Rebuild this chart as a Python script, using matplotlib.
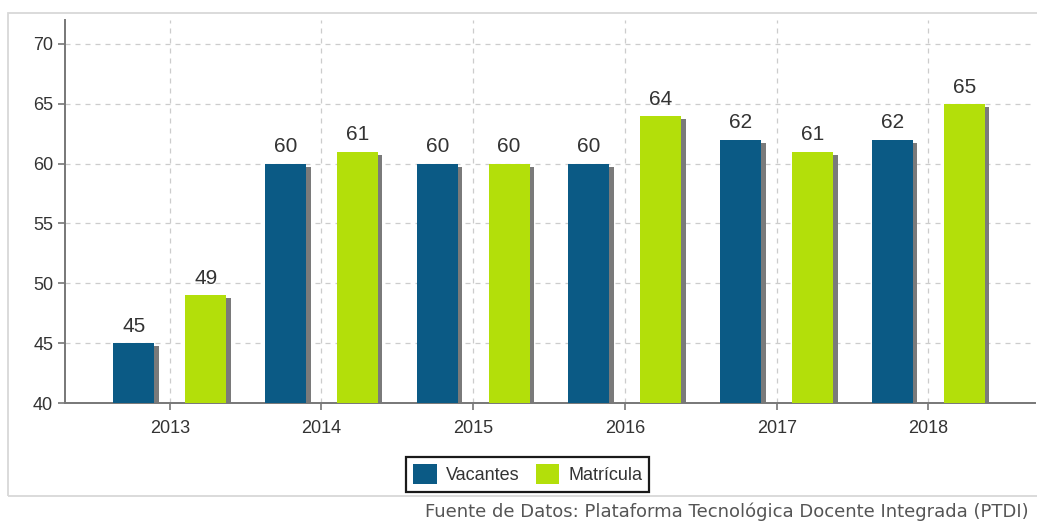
import numpy as np
import matplotlib.pyplot as plt
from matplotlib import font_manager
from matplotlib.patches import Rectangle

plt.rcParams['font.family'] = ['Liberation Sans', 'DejaVu Sans']

# narrow face for ticks and legend, if it is there
installed = {f.name for f in font_manager.fontManager.ttflist}
narrow = 'Liberation Sans Narrow' if 'Liberation Sans Narrow' in installed else 'Liberation Sans'

# Data
years = ['2013', '2014', '2015', '2016', '2017', '2018']
vacantes = [45, 60, 60, 60, 62, 62]
matricula = [49, 61, 60, 64, 61, 65]

color_vac = '#0b5a85'
color_mat = '#b3df0a'
shadow = '#7a7a7a'
text_col = '#333333'

fig = plt.figure(figsize=(10.37, 5.23), dpi=100)

# outer light frame (right edge runs off the picture)
fig.add_artist(Rectangle((0.008, 0.052), 1.0, 0.923, transform=fig.transFigure,
                         fill=False, edgecolor='#d8d8d8', linewidth=1.3))

ax = fig.add_axes([0.0627, 0.2294, 0.935, 0.7324])

x = np.arange(len(years))
width = 0.27
offset = 0.237

# shadows first, then bars
dx, dy = 0.03, 0.25
for xs, vals, col, lab in [(x - offset, vacantes, color_vac, 'Vacantes'),
                           (x + offset, matricula, color_mat, 'Matrícula')]:
    ax.bar(xs + dx, np.array(vals) - 40 - dy, bottom=40, width=width,
           color=shadow, zorder=2)
    bars = ax.bar(xs, np.array(vals) - 40, bottom=40, width=width,
                  color=col, zorder=3, label=lab)
    for b, v in zip(bars, vals):
        ax.text(b.get_x() + b.get_width() / 2, v + 0.6, str(v),
                ha='center', va='bottom', fontsize=15, color=text_col)

ax.set_xlim(-0.69, 5.7)
ax.set_ylim(40, 72)
ax.set_yticks(range(40, 71, 5))
ax.set_xticks(x)
ax.set_xticklabels(years)
ax.tick_params(axis='both', colors='#777777', labelcolor=text_col,
               labelsize=13, length=5, width=1.2)
ax.tick_params(axis='x', pad=7)
for lbl in ax.get_xticklabels() + ax.get_yticklabels():
    lbl.set_fontfamily(narrow)

ax.grid(True, linestyle=(0, (4, 4)), color='#cccccc', linewidth=0.9, zorder=0)
ax.set_axisbelow(True)
for s in ['top', 'right']:
    ax.spines[s].set_visible(False)
for s in ['left', 'bottom']:
    ax.spines[s].set_color('#777777')
    ax.spines[s].set_linewidth(1.4)

leg = fig.legend(loc='center', bbox_to_anchor=(0.509, 0.093), ncol=2,
                 frameon=True, fancybox=False, framealpha=1.0, handlelength=1.3,
                 handleheight=1.3, handletextpad=0.5, columnspacing=0.9,
                 borderpad=0.4, prop={'family': narrow, 'size': 13})
leg.get_frame().set_edgecolor('#1a1a1a')
leg.get_frame().set_linewidth(1.6)
for t in leg.get_texts():
    t.set_color(text_col)

fig.text(0.992, 0.021, 'Fuente de Datos: Plataforma Tecnológica Docente Integrada (PTDI)',
         ha='right', va='center', fontsize=13, color='#555555',
         family=['DejaVu Sans'])

fig.savefig('out.png', dpi=100)
